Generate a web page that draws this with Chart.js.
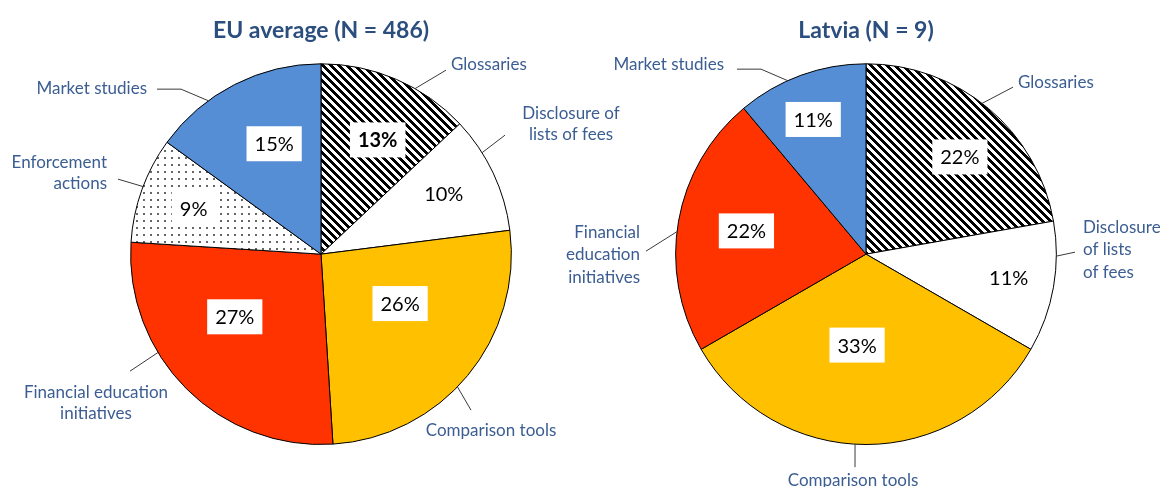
<!DOCTYPE html>
<html>
<head>
<meta charset="utf-8">
<script src="https://cdn.jsdelivr.net/npm/chart.js@4.4.0/dist/chart.umd.min.js"></script>
<style>
  body { margin: 0; background: #fff; }
  canvas { position: absolute; top: 0; }
</style>
</head>
<body>
<canvas id="chart-eu" width="700" height="487" style="left:0"></canvas>
<canvas id="chart-lv" width="621" height="487" style="left:540px"></canvas>
<script>
const categories = ["Glossaries", "Disclosure of lists of fees", "Comparison tools", "Financial education initiatives", "Enforcement actions", "Market studies"]
const euShares = [13, 10, 26, 27, 9, 15]   // % of N = 486
const lvCounts = [2, 1, 3, 2, 0, 1]        // answers, N = 9
const euLabels = [["Glossaries"], ["Disclosure of", "lists of fees"], ["Comparison tools"], ["Financial education", "initiatives"], ["Enforcement", "actions"], ["Market studies"]]
const lvLabels = [["Glossaries"], ["Disclosure", "of lists", "of fees"], ["Comparison tools"], ["Financial", "education", "initiatives"], ["Enforcement actions"], ["Market studies"]]

const FONT = "Lato, 'Open Sans', sans-serif"
const TITLE_COLOR = "#2B4E7E"
const LABEL_COLOR = "#3B5D92"

// crisp "\\\" stripes, built pixel by pixel
function hatchPattern() {
  const s = 8
  const c = document.createElement("canvas")
  c.width = s; c.height = s
  const g = c.getContext("2d")
  g.fillStyle = "#fff"
  g.fillRect(0, 0, s, s)
  g.fillStyle = "#000"
  for (let y = 0; y < s; y++) {
    for (let x = 0; x < s; x++) {
      if (((x - y) % s + s) % s < s / 2) g.fillRect(x, y, 1, 1)
    }
  }
  return g.createPattern(c, "repeat")
}

function dotPattern() {
  const s = 7
  const c = document.createElement("canvas")
  c.width = s; c.height = s
  const g = c.getContext("2d")
  g.fillStyle = "#fff"
  g.fillRect(0, 0, s, s)
  g.fillStyle = "#666"
  g.fillRect(3, 3, 2, 2)
  return g.createPattern(c, "repeat")
}

const fills = [hatchPattern(), "#ffffff", "#FFC000", "#FF3300", dotPattern(), "#558ED5"]

// percent boxes inside the slices and callout labels outside
const calloutPlugin = {
  id: "callouts",
  afterDatasetsDraw(chart, args, opts) {
    const ctx = chart.ctx
    const meta = chart.getDatasetMeta(0)
    const arc0 = meta.data[0]
    const cx = arc0.x, cy = arc0.y, r = arc0.outerRadius
    const pt = (deg, d) => [cx + d * Math.sin(deg * Math.PI / 180), cy - d * Math.cos(deg * Math.PI / 180)]
    const values = chart.data.datasets[0].data
    const total = values.reduce((a, b) => a + b, 0)

    ctx.save()
    values.forEach((v, i) => {
      if (!v) return
      // value box
      const [ang, frac] = opts.inside[i]
      const [x, y] = pt(ang, frac * r)
      const txt = Math.round(v / total * 100) + "%"
      ctx.font = (opts.bold === i ? "bold " : "") + "20px " + FONT
      const w = ctx.measureText(txt).width + 16
      const h = 35
      ctx.fillStyle = "#fff"
      ctx.fillRect(x - w / 2, y - h / 2, w, h)
      ctx.fillStyle = "#000"
      ctx.textAlign = "center"
      ctx.textBaseline = "middle"
      ctx.fillText(txt, x, y + 1)

      // leader + category label
      const c = opts.callouts[i]
      if (!c) return
      ctx.strokeStyle = "#3a3a3a"
      ctx.lineWidth = 1
      ctx.beginPath()
      const [sx, sy] = pt(c.a, r)
      ctx.moveTo(sx, sy)
      c.pts.forEach(p => ctx.lineTo(cx + p[0], cy + p[1]))
      ctx.stroke()

      ctx.font = "17px " + FONT
      ctx.fillStyle = LABEL_COLOR
      ctx.textAlign = c.align
      opts.labels[i].forEach((line, j) => {
        ctx.fillText(line, cx + c.tx, cy + c.ty + j * opts.lineHeight)
      })
    })
    ctx.restore()
  }
}

function makePie(id, title, values, padding, calloutOpts) {
  return new Chart(document.getElementById(id), {
    type: "pie",
    data: {
      labels: categories,
      datasets: [{
        data: values,
        backgroundColor: fills,
        borderColor: "#000",
        borderWidth: 1
      }]
    },
    options: {
      responsive: false,
      animation: false,
      devicePixelRatio: 1,
      rotation: 0,
      layout: { padding },
      plugins: {
        legend: { display: false },
        tooltip: { enabled: false },
        title: {
          display: true,
          text: title,
          color: TITLE_COLOR,
          font: { family: FONT, size: 23, weight: "bold", lineHeight: 1.1 },
          padding: { top: 13, bottom: 20 }
        },
        callouts: calloutOpts
      }
    },
    plugins: [calloutPlugin]
  })
}

makePie("chart-eu", "EU average (N = 486)", euShares,
  { top: 5, left: 130, right: 188, bottom: 42 },
  {
    labels: euLabels,
    lineHeight: 21,
    bold: 0,
    inside: [[26.4, 0.67], [63.6, 0.72], [122, 0.49], [234, 0.56], [289.5, 0.71], [337, 0.63]],
    callouts: [
      { a: 29.6, pts: [[125, -184]], tx: 130, ty: -190, align: "left" },
      { a: 57.8, pts: [[184, -119]], tx: 250, ty: -141, align: "center" },
      { a: 134.2, pts: [[150, 156]], tx: 170, ty: 176, align: "center" },
      { a: 238.9, pts: [[-191, 117]], tx: -225, ty: 138, align: "center" },
      { a: 290.8, pts: [[-203, -75]], tx: -214, ty: -92, align: "right" },
      { a: 323.7, pts: [[-140, -165], [-164, -165]], tx: -174, ty: -166, align: "right" }
    ]
  })

makePie("chart-lv", "Latvia (N = 9)", lvCounts,
  { top: 5, left: 135, right: 104, bottom: 42 },
  {
    labels: lvLabels,
    lineHeight: 22.5,
    bold: -1,
    inside: [[44, 0.71], [99.5, 0.76], [185.6, 0.48], [281, 0.64], null, [338.6, 0.76]],
    callouts: [
      { a: 37.6, pts: [[147, -167]], tx: 152, ty: -172, align: "left" },
      { a: 90.6, pts: [[209, -2]], tx: 217, ty: -27, align: "left" },
      { a: 183.3, pts: [[-11, 213]], tx: -13, ty: 226, align: "center" },
      { a: 276.8, pts: [[-220, -3]], tx: -226, ty: -22, align: "right" },
      null,
      { a: 335.7, pts: [[-105, -185], [-129, -185]], tx: -142, ty: -190, align: "right" }
    ]
  })
</script>
</body>
</html>
